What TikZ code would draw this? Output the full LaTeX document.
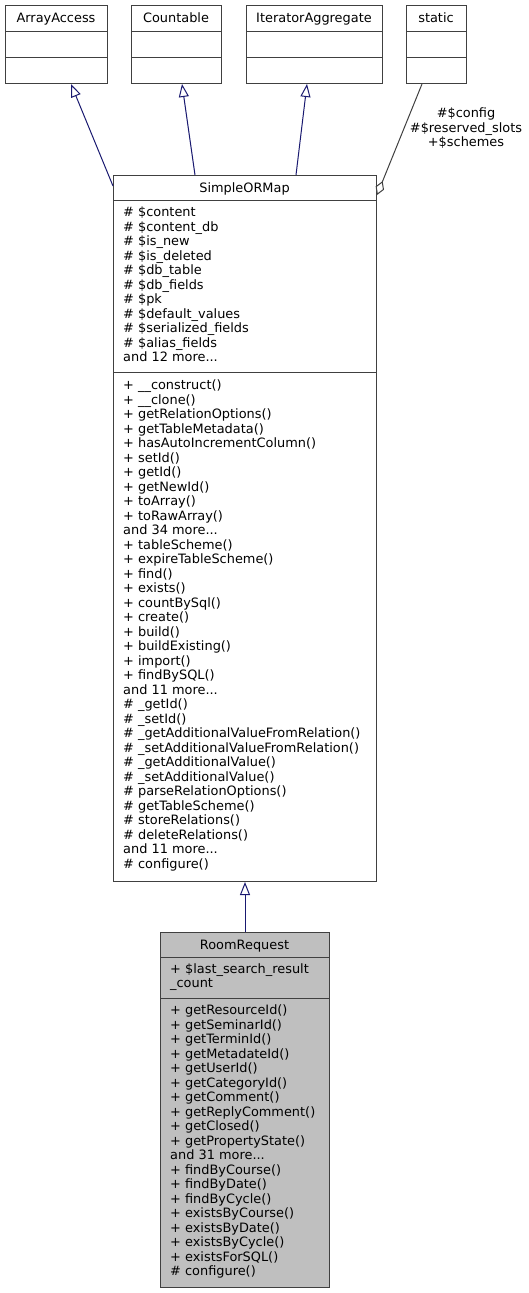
\documentclass[tikz,border=0pt]{standalone}
\usepackage{fontspec}
\setmainfont{DejaVu Sans}
\usetikzlibrary{arrows.meta,calc}
\definecolor{edgeblue}{HTML}{191970}
\definecolor{bordergray}{HTML}{404040}
\definecolor{fillgray}{HTML}{BFBFBF}
\newcommand\tdots{...}
\begin{document}
\begin{tikzpicture}[x=1pt,y=-1pt,
  box/.style={draw=bordergray, line width=1pt, fill=white, inner sep=0pt, anchor=north west},
  greybox/.style={box, fill=fillgray},
  divider/.style={draw=bordergray, line width=1pt},
  txt/.style={inner sep=0pt, font=\fontsize{12.9}{14.5}\selectfont, text height=9.4pt, text depth=0pt},
  mem/.style={txt, anchor=west},
  inh/.style={draw=edgeblue, line width=1pt, -{Triangle[length=13pt,width=10pt,fill=white,line width=1pt]}},
  agg/.style={draw=bordergray, line width=1pt, -{Diamond[length=15pt,width=9pt,fill=white,line width=1pt]}}]
\useasboundingbox (0,0) rectangle (529,1293);
\fill[white] (0,0) rectangle (529,1293);

% top boxes
\node[box, minimum width=102pt, minimum height=78pt] (aa) at (5,5) {};
\draw[divider] (5,31) -- (107,31); \draw[divider] (5,57) -- (107,57);
\node[txt] (aat) at (56,18) {ArrayAccess};

\node[box, minimum width=90pt, minimum height=78pt] (cnt) at (131,5) {};
\draw[divider] (131,31) -- (221,31); \draw[divider] (131,57) -- (221,57);
\node[txt] (cntt) at (176,18) {Countable};

\node[box, minimum width=136pt, minimum height=78pt] (ia) at (246,5) {};
\draw[divider] (246,31) -- (382,31); \draw[divider] (246,57) -- (382,57);
\node[txt] (iat) at (314,18) {IteratorAggregate};

\node[box, minimum width=60pt, minimum height=78pt] (st) at (406,5) {};
\draw[divider] (406,31) -- (466,31); \draw[divider] (406,57) -- (466,57);
\node[txt] (stt) at (436,18) {static};

% SimpleORMap
\node[box, minimum width=263pt, minimum height=706pt] (som) at (113,175) {};
\draw[divider] (113,200) -- (376,200); \draw[divider] (113,372) -- (376,372);
\node[txt] (somt) at (244.5,187.5) {SimpleORMap};
\foreach \t [count=\i from 0] in {{\# \$content},{\# \$content\_db},{\# \$is\_new},{\# \$is\_deleted},{\# \$db\_table},{\# \$db\_fields},{\# \$pk},{\# \$default\_values},{\# \$serialized\_fields},{\# \$alias\_fields},{and 12 more\tdots}}
  \node[mem] (soma\i) at (123,212+14.5*\i) {\t};
\foreach \t [count=\i from 0] in {{+ \_\_construct()},{+ \_\_clone()},{+ getRelationOptions()},{+ getTableMetadata()},{+ hasAutoIncrementColumn()},{+ setId()},{+ getId()},{+ getNewId()},{+ toArray()},{+ toRawArray()},{and 34 more\tdots},{+ tableScheme()},{+ expireTableScheme()},{+ find()},{+ exists()},{+ countBySql()},{+ create()},{+ build()},{+ buildExisting()},{+ import()},{+ findBySQL()},{and 11 more\tdots},{\# \_getId()},{\# \_setId()},{\# \_getAdditionalValueFromRelation()},{\# \_setAdditionalValueFromRelation()},{\# \_getAdditionalValue()},{\# \_setAdditionalValue()},{\# parseRelationOptions()},{\# getTableScheme()},{\# storeRelations()},{\# deleteRelations()},{and 11 more\tdots},{\# configure()}}
  \node[mem] (somm\i) at (123,385+14.5*\i) {\t};

% RoomRequest
\node[greybox, minimum width=169pt, minimum height=355pt] (rr) at (160,932) {};
\draw[divider] (160,957) -- (329,957); \draw[divider] (160,998) -- (329,998);
\node[txt] (rrt) at (244.5,944.5) {RoomRequest};
\node[mem] (rra0) at (170,968.5) {+ \$last\_search\_result};
\node[mem] (rra1) at (170,983) {\_count};
\foreach \t [count=\i from 0] in {{+ getResourceId()},{+ getSeminarId()},{+ getTerminId()},{+ getMetadateId()},{+ getUserId()},{+ getCategoryId()},{+ getComment()},{+ getReplyComment()},{+ getClosed()},{+ getPropertyState()},{and 31 more\tdots},{+ findByCourse()},{+ findByDate()},{+ findByCycle()},{+ existsByCourse()},{+ existsByDate()},{+ existsByCycle()},{+ existsForSQL()},{\# configure()}}
  \node[mem] (rrm\i) at (170,1010+14.5*\i) {\t};

% connectors
\draw[inh] ($(som.north west)+(0,11)$) -- ($(aa.south west)+(66,0)$);
\draw[inh] ($(som.north west)+(82,0)$) -- ($(cnt.south west)+(51,0)$);
\draw[inh] ($(som.north west)+(183,0)$) -- ($(ia.south west)+(61,0)$);
\draw[agg] ($(st.south west)+(16,0)$) -- ($(som.north east)+(0,20)$);
\draw[inh] (rr.north) -- (som.south);

\node[txt] (l1) at (466,113) {\#\$config};
\node[txt] (l2) at (466,127.5) {\#\$reserved\_slots};
\node[txt] (l3) at (466,142) {+\$schemes};
\end{tikzpicture}
\end{document}
